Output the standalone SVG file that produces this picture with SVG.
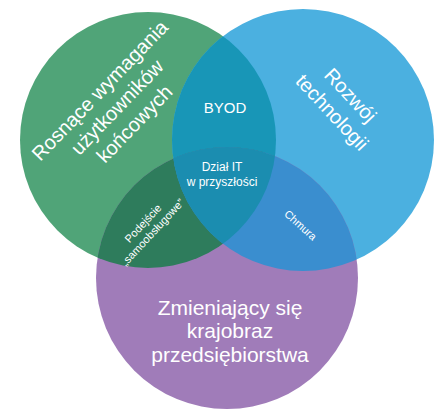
<svg xmlns="http://www.w3.org/2000/svg" width="444" height="414" viewBox="0 0 444 414">
<style>
text{font-family:"Liberation Sans",Arial,sans-serif;fill:#ffffff;text-anchor:middle}
.big{font-size:20px}
.bot{font-size:21px}
.mid{font-size:15px}
.sm{font-size:12px}
.xs{font-size:11px}
</style>
<defs>
<clipPath id="cG"><circle cx="148" cy="140" r="128"/></clipPath>
<clipPath id="cB"><circle cx="303" cy="140" r="131"/></clipPath>
<clipPath id="cP"><circle cx="227" cy="278" r="131"/></clipPath>
</defs>
<rect width="444" height="414" fill="#ffffff"/>
<g id="node-green">
<circle cx="148" cy="140" r="128" fill="#50a478"/>
</g>
<g id="node-blue">
<circle cx="303" cy="140" r="131" fill="#4bb0e0"/>
</g>
<g id="node-purple">
<circle cx="227" cy="278" r="131" fill="#a07cb9"/>
</g>
<g id="node-byod">
<g clip-path="url(#cG)"><circle cx="303" cy="140" r="131" fill="#1896b7"/></g>
</g>
<g id="node-samoobslugowe">
<g clip-path="url(#cG)"><circle cx="227" cy="278" r="131" fill="#2e7c5c"/></g>
</g>
<g id="node-chmura">
<g clip-path="url(#cB)"><circle cx="227" cy="278" r="131" fill="#3a8ecf"/></g>
</g>
<g id="node-center">
<g clip-path="url(#cG)"><g clip-path="url(#cB)"><circle cx="227" cy="278" r="131" fill="#1b8db0"/></g></g>
</g>
<g id="labels">
<g transform="translate(117,107) rotate(-46)">
<text class="big" x="0" y="-17">Rosnące wymagania</text>
<text class="big" x="0" y="7">użytkowników</text>
<text class="big" x="0" y="31">końcowych</text>
</g>
<g transform="translate(341,104) rotate(47)">
<text class="big" x="0" y="-6">Rozwój</text>
<text class="big" x="0" y="19">technologii</text>
</g>
<text class="bot" x="230" y="315">Zmieniający się</text>
<text class="bot" x="230" y="338">krajobraz</text>
<text class="bot" x="230" y="362">przedsiębiorstwa</text>
<text class="mid" x="225" y="113">BYOD</text>
<text class="sm" x="222" y="171">Dział IT</text>
<text class="sm" x="222" y="186">w przyszłości</text>
<g transform="translate(148,228) rotate(-47)">
<text class="xs" x="0" y="-3">Podejście</text>
<text class="xs" x="0" y="10">„samoobsługowe”</text>
</g>
<text class="xs" x="0" y="0" transform="translate(298,228) rotate(42)">Chmura</text>
</g>
</svg>
